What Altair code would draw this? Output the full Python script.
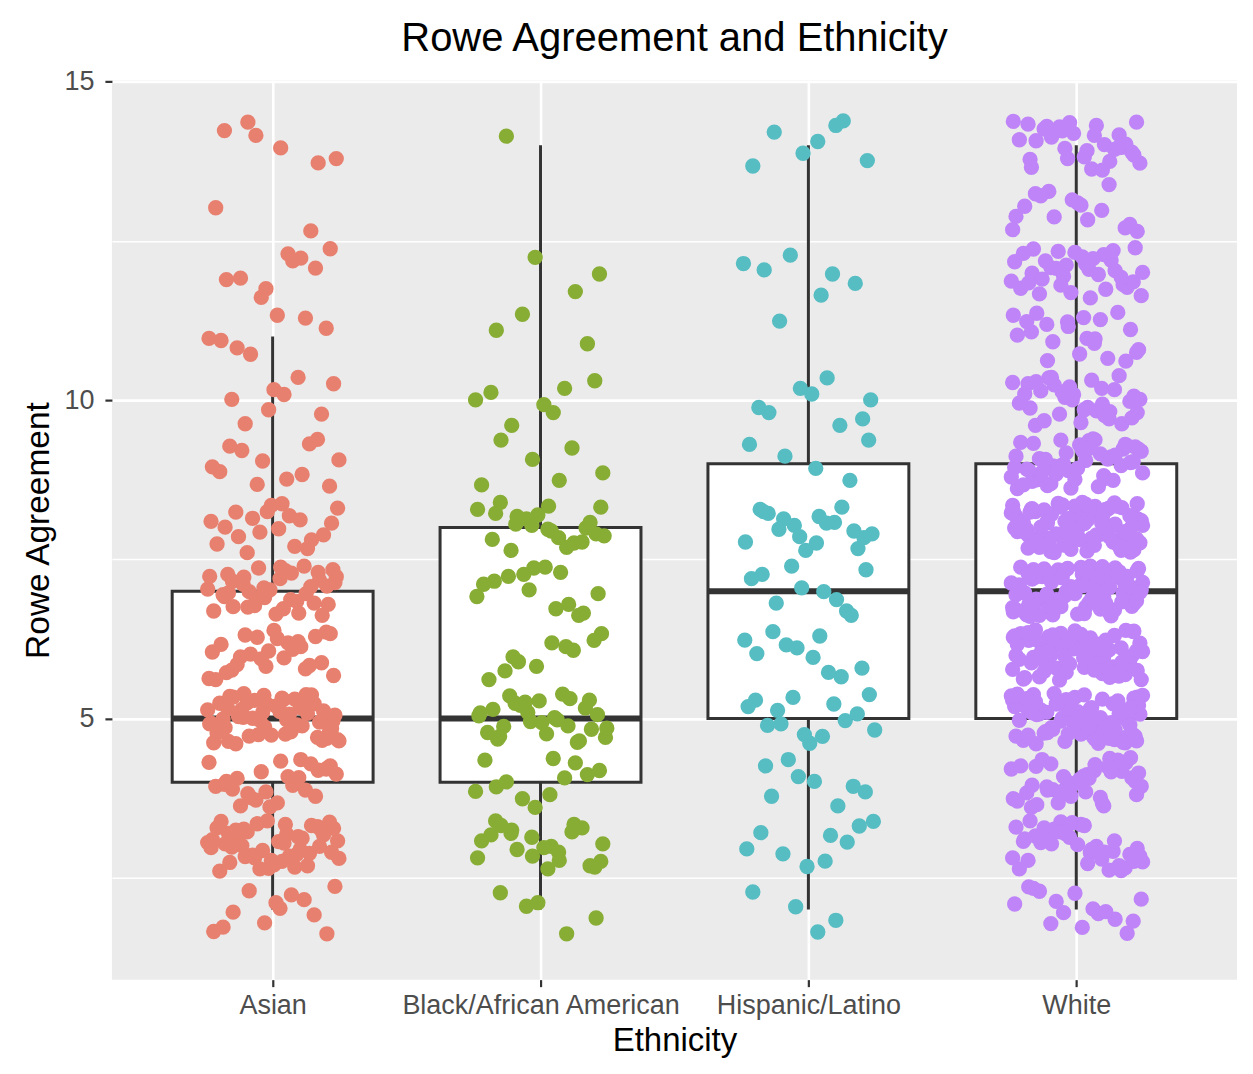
import json
import numpy as np
import pandas as pd
import altair as alt

FONT = "Liberation Sans"

GROUPS = ["Asian", "Black/African American", "Hispanic/Latino", "White"]
COLORS = ["#E8806F", "#88AD34", "#56BDC3", "#BF84F8"]

# Rowe Agreement scores (integer levels) and number of respondents at each level
LEVELS = [2, 3, 4, 5, 6, 7, 8, 9, 10, 11, 12, 13, 14]
COUNTS_ASIAN = [12, 48, 27, 58, 28, 40, 20, 12, 8, 7, 9, 2, 6]
COUNTS_BLACK = [5, 22, 12, 29, 10, 14, 22, 6, 7, 3, 3, 0, 1]
COUNTS_HISPANIC = [4, 9, 8, 14, 10, 10, 18, 5, 8, 1, 6, 0, 7]
COUNTS_WHITE = [16, 40, 44, 90, 80, 95, 95, 52, 36, 22, 36, 16, 32]
COUNTS = [COUNTS_ASIAN, COUNTS_BLACK, COUNTS_HISPANIC, COUNTS_WHITE]

# jitter table (unit offsets, cycled)
JX = [0.62, -0.35, 0.11, -0.88, 0.47, -0.12, 0.93, -0.59, 0.28, -0.74,
      0.05, 0.81, -0.43, 0.36, -0.97, 0.19, -0.27, 0.70, -0.66, 0.52,
      -0.08, 0.88, -0.51, 0.14, -0.83, 0.41, -0.19, 0.97, -0.38, 0.25,
      -0.71, 0.58, -0.02, 0.76, -0.92, 0.33, -0.55, 0.09, -0.30, 0.85,
      -0.64, 0.44, -0.15, 0.67, -0.79, 0.21, -0.46, 0.99, -0.23, 0.55,
      -0.90, 0.02, 0.73, -0.61, 0.38, -0.06, 0.91, -0.41, 0.17, -0.77,
      0.49, -0.33, 0.80, -0.53, 0.07, -0.95, 0.30, -0.17, 0.64, -0.69,
      0.42, -0.10, 0.86, -0.48, 0.23, -0.85, 0.57, -0.25, 0.95, -0.37,
      0.12, -0.72, 0.68, -0.04, 0.39, -0.60, 0.83, -0.21, 0.50, -0.94,
      0.16, -0.44, 0.74, -0.67, 0.27, -0.13, 0.90]
JY = [-0.21, 0.74, 0.05, -0.86, 0.39, -0.52, 0.91, -0.10, 0.58, -0.69,
      0.27, -0.95, 0.66, -0.33, 0.13, 0.84, -0.47, -0.02, 0.49, -0.78,
      0.98, -0.25, 0.34, -0.61, 0.71, -0.14, -0.90, 0.20, 0.55, -0.40,
      0.08, 0.80, -0.57, 0.43, -0.07, -0.83, 0.62, 0.17, -0.36, 0.93,
      -0.65, 0.30, -0.18, 0.76, -0.99, 0.46, 0.01, -0.49, 0.87, -0.29,
      0.24, -0.74, 0.60, -0.05, 0.36, -0.88, 0.69, -0.42, 0.11, 0.96,
      -0.31, -0.60, 0.52, 0.15, -0.81, 0.78, -0.12, 0.41, -0.55, 0.03,
      0.89, -0.38, 0.64, -0.93, 0.22, -0.16, 0.72, -0.70, 0.32, -0.45,
      0.83, -0.08, 0.47, -0.97, 0.18, -0.27, 0.57, -0.63, 0.94]
JIT_W = 0.25
JIT_H = 0.4

# build points and box statistics
rows = []
stats = []
g = 0
for gi, (name, counts) in enumerate(zip(GROUPS, COUNTS)):
    raw = []
    for lev, c in zip(LEVELS, counts):
        for k in range(c):
            raw.append(lev)
            rows.append({
                "group": name,
                "pos": gi + 1 + JIT_W * JX[g % len(JX)],
                "value": lev + JIT_H * JY[g % len(JY)],
            })
            g += 1
    v = np.array(raw, dtype=float)
    q1, med, q3 = np.percentile(v, [25, 50, 75])
    iqr = q3 - q1
    lo = v[v >= q1 - 1.5 * iqr].min()
    hi = v[v <= q3 + 1.5 * iqr].max()
    stats.append({"group": name, "pos": gi + 1, "q1": q1, "med": med,
                  "q3": q3, "lo": lo, "hi": hi})

points_df = pd.DataFrame(rows)
stats_df = pd.DataFrame(stats)

x_scale = alt.Scale(domain=[0.4, 4.6], nice=False, zero=False)
y_scale = alt.Scale(domain=[0.9, 15.02], nice=False, zero=False)

major = "datum.value % 5 === 0"
x_axis = alt.Axis(
    values=[1, 2, 3, 4],
    labelExpr=json.dumps(GROUPS) + "[datum.value - 1]",
    title="Ethnicity",
    grid=True, gridColor="white", gridWidth=2.6,
    domain=False, ticks=True, tickColor="#333333", tickWidth=2.2, tickSize=7,
    labelPadding=6, labelColor="#4D4D4D", labelFontSize=27, labelFont=FONT,
    labelOverlap=False, labelFlush=False, labelLimit=500,
    titleFont=FONT, titleFontSize=33, titleColor="black",
    titleFontWeight="normal", titlePadding=6,
)
y_axis = alt.Axis(
    values=[2.5, 5, 7.5, 10, 12.5, 15],
    labelExpr=major + " ? datum.label : ''",
    title="Rowe Agreement",
    grid=True, gridColor="white",
    gridWidth={"condition": {"test": major, "value": 2.6}, "value": 1.4},
    domain=False, ticks=True, tickColor="#333333", tickWidth=2.2, tickSize=7,
    tickOpacity={"condition": {"test": major, "value": 1}, "value": 0},
    labelPadding=11, labelColor="#4D4D4D", labelFontSize=27, labelFont=FONT,
    titleFont=FONT, titleFontSize=33.5, titleColor="black",
    titleFontWeight="normal", titlePadding=8,
)

box_base = alt.Chart(stats_df).transform_calculate(
    xlo="datum.pos - 0.375", xhi="datum.pos + 0.375"
)

whisk = box_base.mark_rule(color="#333333", strokeWidth=3).encode(
    x=alt.X("pos:Q", scale=x_scale, axis=x_axis),
    y=alt.Y("lo:Q", scale=y_scale, axis=y_axis),
    y2="hi:Q",
)
box = box_base.mark_rect(fill="white", stroke="#333333", strokeWidth=3).encode(
    x=alt.X("xlo:Q", scale=x_scale, axis=x_axis),
    x2="xhi:Q",
    y=alt.Y("q1:Q", scale=y_scale, axis=y_axis),
    y2="q3:Q",
)
median = box_base.mark_rule(color="#333333", strokeWidth=6).encode(
    x=alt.X("xlo:Q", scale=x_scale, axis=x_axis),
    x2="xhi:Q",
    y=alt.Y("med:Q", scale=y_scale, axis=y_axis),
)
pts = alt.Chart(points_df).mark_circle(size=235, opacity=1).encode(
    x=alt.X("pos:Q", scale=x_scale, axis=x_axis),
    y=alt.Y("value:Q", scale=y_scale, axis=y_axis),
    color=alt.Color("group:N", scale=alt.Scale(domain=GROUPS, range=COLORS),
                    legend=None),
)

chart = alt.layer(whisk, box, median, pts).properties(
    width=1126,
    height=900,
    title=alt.TitleParams(
        "Rowe Agreement and Ethnicity", fontSize=40, font=FONT,
        color="black", fontWeight="normal", anchor="middle", frame="group",
        baseline="alphabetic", offset=-23,
    ),
    padding={"left": 104, "top": 72, "right": 8, "bottom": 90},
    autosize=alt.AutoSizeParams(type="none"),
).configure(
    background="white", font=FONT
).configure_view(fill="#EBEBEB", strokeWidth=0)

chart.save("out.html", embed_options={"renderer": "svg", "actions": False})
